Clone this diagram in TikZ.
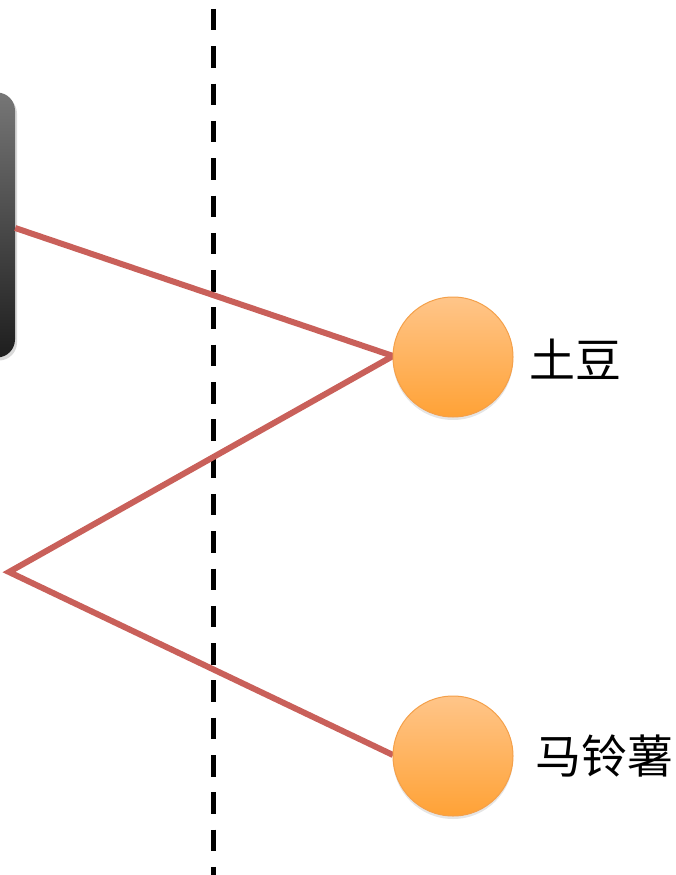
\documentclass[tikz,border=0pt]{standalone}
\usepackage{fontspec}
\newfontfamily\cjk{Noto Sans CJK SC}
\usetikzlibrary{shadows}
\definecolor{linkred}{HTML}{C9605A}
\definecolor{balltop}{HTML}{FFC589}
\definecolor{ballbot}{HTML}{FFA236}
\definecolor{ballrim}{HTML}{F4A04A}
\definecolor{paneltop}{HTML}{767676}
\definecolor{panelbot}{HTML}{1E1E1E}
\begin{document}
\begin{tikzpicture}[x=1pt,y=-1pt,
  link/.style={draw=linkred, line width=6pt},
  ball/.style={circle, minimum size=120pt, inner sep=0pt, draw=ballrim, line width=1pt,
    top color=balltop, bottom color=ballbot,
    drop shadow={shadow xshift=0pt, shadow yshift=-3pt, opacity=0.1, fill=black}},
  panel/.style={rectangle, rounded corners=18pt, minimum width=50pt, minimum height=265pt,
    top color=paneltop, bottom color=panelbot,
    drop shadow={shadow xshift=2pt, shadow yshift=-3pt, opacity=0.15, fill=black}},
  tag/.style={font=\cjk\fontsize{46}{46}\selectfont, anchor=west, inner sep=0pt},
  divider/.style={draw=black, line width=5pt, dash pattern=on 21.5pt off 15.8pt}]
\useasboundingbox (0,0) rectangle (675,875);

% source panel cut by the left margin
\node[panel] (src) at (-10,225) {};

% dashed divider
\coordinate (dtop) at (213,9);
\coordinate (dbot) at (213,875);
\draw[divider] (dtop) -- (dbot);

% branch point and target anchors
\coordinate (fork) at (9,572);
\coordinate (t1) at (393,356);
\coordinate (t2) at (393,755);

% connectors
\draw[link] (src.east |- 0,228) -- (t1);
\draw[link] (t1) -- (fork) -- (t2);

% targets
\node[ball] (potato) at (453,357) {};
\node[ball] (spud) at (453,756) {};

\node[tag] (potatolbl) at (529,359) {土豆};
\node[tag] (spudlbl) at (535,756) {马铃薯};
\end{tikzpicture}
\end{document}
